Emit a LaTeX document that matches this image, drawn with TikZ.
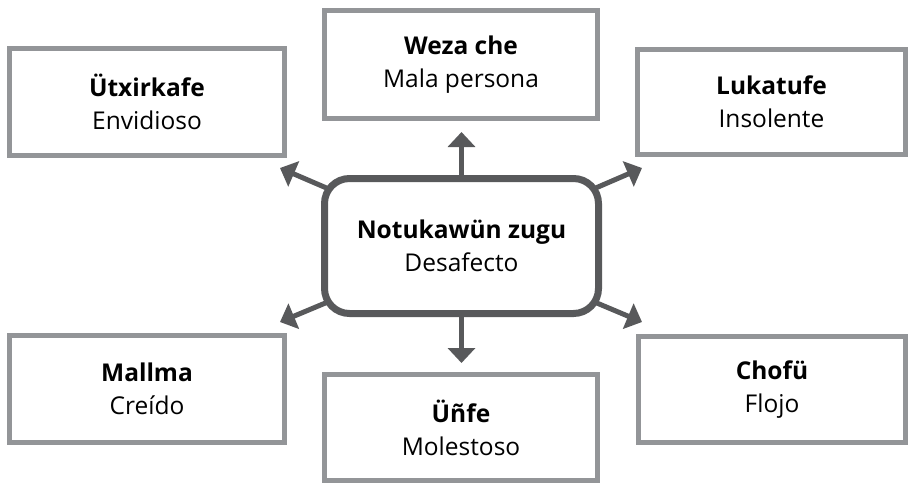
\documentclass[tikz,border=0pt]{standalone}
\usepackage{fontspec}
\setmainfont{Open Sans}
\usetikzlibrary{arrows.meta,backgrounds}
\definecolor{boxgray}{RGB}{147,149,152}
\definecolor{hubgray}{RGB}{88,89,91}
\tikzset{
  leaf/.style={draw=boxgray, line width=5pt, fill=white, align=center, inner sep=0pt,
    font=\fontsize{24.5}{33}\selectfont, text=black},
  hub/.style={draw=hubgray, line width=7pt, fill=white, align=center, inner sep=0pt,
    rounded corners=25pt, font=\fontsize{24.5}{33}\selectfont, text=black},
  arr/.style={draw=hubgray, line width=5pt, -{Triangle[length=15pt,width=27pt]}, hubgray},
}
\begin{document}
\begin{tikzpicture}[x=1pt,y=-1pt]
\useasboundingbox (0,0) rectangle (913,491);
\node[hub, minimum width=274pt, minimum height=135pt] (c) at (461.5,246) {\textbf{Notukawün zugu}\\Desafecto};
\node[leaf, minimum width=275pt, minimum height=107pt] (a) at (147,102) {\textbf{Ütxirkafe}\\Envidioso};
\node[leaf, minimum width=273pt, minimum height=108pt] (b) at (461,64.5) {\textbf{Weza che}\\Mala persona};
\node[leaf, minimum width=268pt, minimum height=105pt] (cc) at (771.5,102) {\textbf{Lukatufe}\\Insolente};
\node[leaf, minimum width=275pt, minimum height=107pt] (d) at (147,389) {\textbf{Mallma}\\Creído};
\node[leaf, minimum width=273pt, minimum height=106pt] (e) at (461,427.5) {\textbf{Üñfe}\\Molestoso};
\node[leaf, minimum width=267pt, minimum height=106pt] (f) at (772,389.5) {\textbf{Chofü}\\Flojo};
\coordinate (tTL) at (280,168);
\coordinate (tTR) at (642,168);
\coordinate (tBL) at (280,322);
\coordinate (tBR) at (642,322);
\coordinate (tT) at (461.5,132);
\coordinate (tB) at (461.5,363);
\begin{scope}[on background layer]
\draw[arr] (c.center) -- (tTL);
\draw[arr] (c.center) -- (tTR);
\draw[arr] (c.center) -- (tBL);
\draw[arr] (c.center) -- (tBR);
\draw[arr] (c.center) -- (tT);
\draw[arr] (c.center) -- (tB);
\end{scope}
\end{tikzpicture}
\end{document}
